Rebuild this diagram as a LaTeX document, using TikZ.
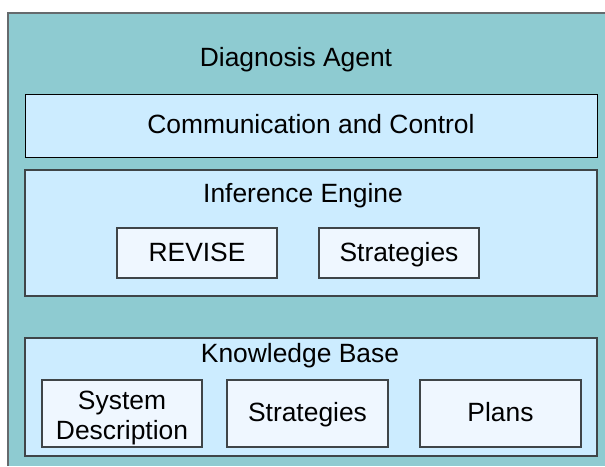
\documentclass[tikz,border=0pt]{standalone}
\usepackage{fontspec}
\setmainfont{Liberation Sans}
\begin{document}
\begin{tikzpicture}[x=1pt,y=-1pt,
  every node/.style={font=\fontsize{26.4}{30}\selectfont, text=black},
  agentfill/.style={fill=agentteal},
  layer/.style={draw=edgegrey, line width=1.3pt, fill=layerblue, inner sep=0pt},
  part/.style={draw=edgegrey, line width=1.3pt, fill=partblue, inner sep=0pt,
               text height=21pt, text depth=4.6pt},
  title/.style={anchor=base, inner sep=0pt}]
\definecolor{agentteal}{HTML}{8ECBD1}
\definecolor{layerblue}{HTML}{CCECFF}
\definecolor{partblue}{HTML}{EFF7FF}
\definecolor{edgegrey}{HTML}{3F4548}
\useasboundingbox (0,0) rectangle (605,466);
% agent frame, running off the right and bottom edges
\fill[agentfill] (8,13) rectangle (605,466);
\draw[edgegrey!80, line width=1.5pt] (8,466) -- (8,13) -- (605,13);
\node[title] (agent) at (296,66) {Diagnosis Agent};
% communication layer
\node[layer, draw=black, line width=1pt, minimum width=572pt, minimum height=63pt,
      text height=21pt, text depth=4.6pt] (comm) at (311,125.5) {Communication and Control};
% inference engine layer
\node[layer, minimum width=572pt, minimum height=126pt] (ie) at (311,233) {};
\node[title] (ietitle) at (303,202) {Inference Engine};
\node[part, minimum width=160pt, minimum height=50pt] (revise) at (197,253) {REVISE};
\node[part, minimum width=160pt, minimum height=50pt] (iestrat) at (399,253) {Strategies};
% knowledge base layer
\node[layer, minimum width=572pt, minimum height=118pt] (kb) at (311,397) {};
\node[title] (kbtitle) at (300,362) {Knowledge Base};
\node[part, minimum width=160pt, minimum height=67pt] (sysdesc) at (122,413.5) {};
\node[title] (systext) at (122,409) {System};
\node[title] (desctext) at (122,439) {Description};
\node[part, minimum width=161pt, minimum height=67pt] (kbstrat) at (307.5,413.5) {Strategies};
\node[part, minimum width=161pt, minimum height=67pt] (plans) at (500.5,413.5) {Plans};
\end{tikzpicture}
\end{document}
